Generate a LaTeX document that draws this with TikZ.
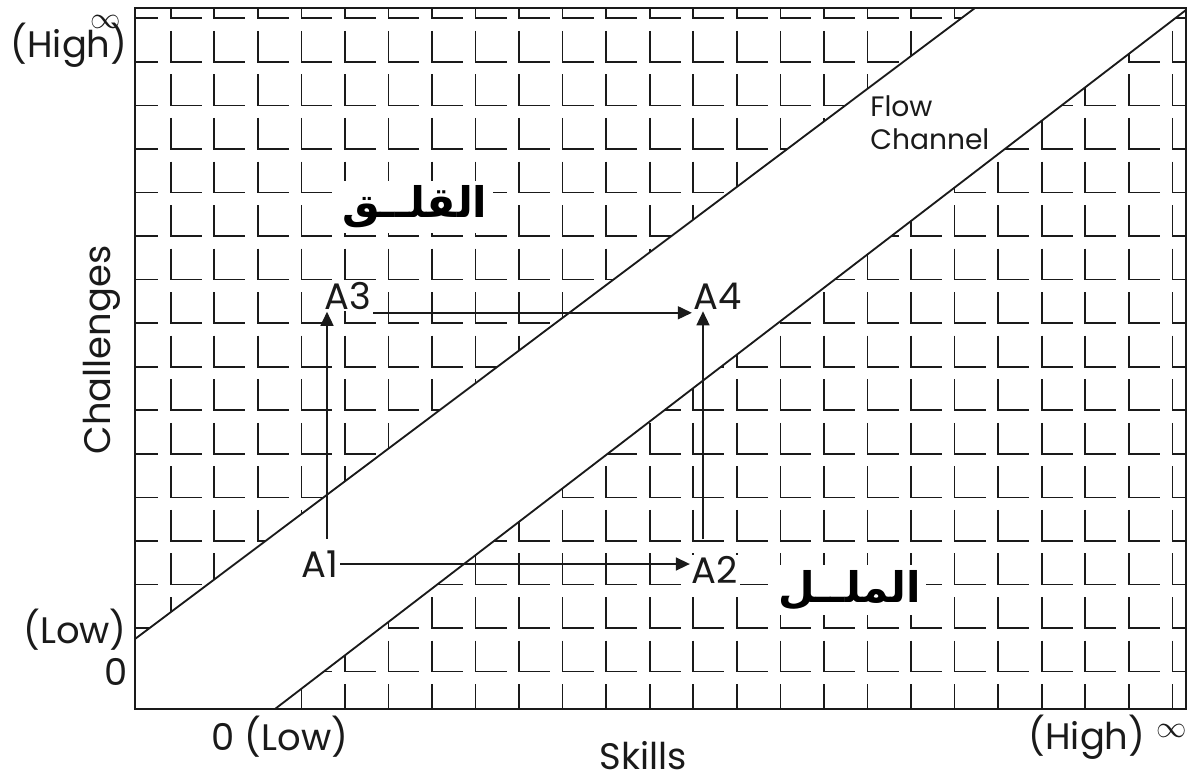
\documentclass[tikz,border=0pt]{standalone}
\usepackage{fontspec}
\setmainfont{Poppins}
\newfontfamily\arabicfont[Script=Arabic]{DejaVu Sans}
\TeXXeTstate=1
\usetikzlibrary{arrows.meta, positioning, calc}
\definecolor{inkgrey}{HTML}{1a1a1a}
\tikzset{
  gridL/.style={draw=inkgrey, line width=0.95pt},
  frameline/.style={draw=inkgrey, line width=1.05pt},
  bandline/.style={draw=inkgrey, line width=1.05pt},
  axislbl/.style={font=\fontsize{21}{24}\selectfont, text=inkgrey, inner sep=1pt},
  inflbl/.style={font=\fontsize{18}{20}\selectfont, text=inkgrey, inner sep=0pt},
  ptlbl/.style={font=\fontsize{21}{24}\selectfont, text=inkgrey, fill=white, inner sep=1pt},
  zonelbl/.style={font=\arabicfont\bfseries\fontsize{24}{28}\selectfont, fill=white, inner sep=3pt},
  flowlbl/.style={font=\fontsize{16}{19}\selectfont, text=inkgrey, align=left, inner sep=0pt},
  arr/.style={-{Triangle[length=0.28cm,width=0.26cm]}, draw=inkgrey, line width=0.9pt},
}

\begin{document}
\begin{tikzpicture}[x=0.02cm, y=-0.02cm]
  \useasboundingbox (0,0) rectangle (1198,782);

  % grid of L marks
  \begin{scope}
    \clip (135,8) rectangle (1186,709);
    \foreach \i in {0,...,24}
      \foreach \j in {0,...,16}
        \draw[gridL] ({127.15+\i*43.55},{18.3+\j*43.55-31}) -- ++(0,31) -- ++(31,0);
  \end{scope}

  % flow channel
  \fill[white] (135,639) -- (975,8) -- (1186,8) -- (1186,10) -- (275,709) -- (135,709) -- cycle;
  \draw[bandline] (135,639) -- (975,8);
  \draw[bandline] (275,709) -- (1186,10);
  \draw[frameline] (135,8) rectangle (1186,709);

  % axis labels
  \node[inflbl] (yinf) at (106,22) {$\infty$};
  \node[axislbl] (yhigh) at (69,45) {(High)};
  \node[axislbl] (ylow) at (75,630) {(Low)};
  \node[axislbl] (yzero) at (116,672) {0};
  \node[axislbl] (xlow) at (280,737) {0 (Low)};
  \node[axislbl] (xhigh) at (1087,737) {(High)};
  \node[inflbl] (xinf) at (1172,731) {$\infty$};
  \node[axislbl, inner sep=0pt] (skills) at (643,756) {Skills};
  \node[axislbl, rotate=90] (chall) at (102,350) {Challenges};

  \node[flowlbl, anchor=west] (flow) at (870,123) {Flow\\Channel};

  \node[zonelbl] (anx) at (415,207) {\beginR القلــق\endR};
  \node[zonelbl] (bore) at (850,590) {\beginR الملــل\endR};

  % states
  \node[ptlbl] (a1) at (320,564) {A1};
  \node[ptlbl] (a2) at (715,570) {A2};
  \node[ptlbl] (a3) at (348,296) {A3};
  \node[ptlbl] (a4) at (718,296) {A4};

  \draw[arr] (a1.east) -- (a1.east -| a2.west);
  \draw[arr] ([xshift=0.14cm,yshift=0.2cm]a1.north) -- ([xshift=0.14cm]a1.north |- a3.south);
  \draw[arr] ([yshift=-0.02cm]a3.south east) -- ([yshift=-0.02cm]a3.south east -| a4.west);
  \draw[arr] ([xshift=-0.24cm,yshift=0.3cm]a2.north) -- ([xshift=-0.24cm]a2.north |- a4.south);
\end{tikzpicture}
\end{document}
